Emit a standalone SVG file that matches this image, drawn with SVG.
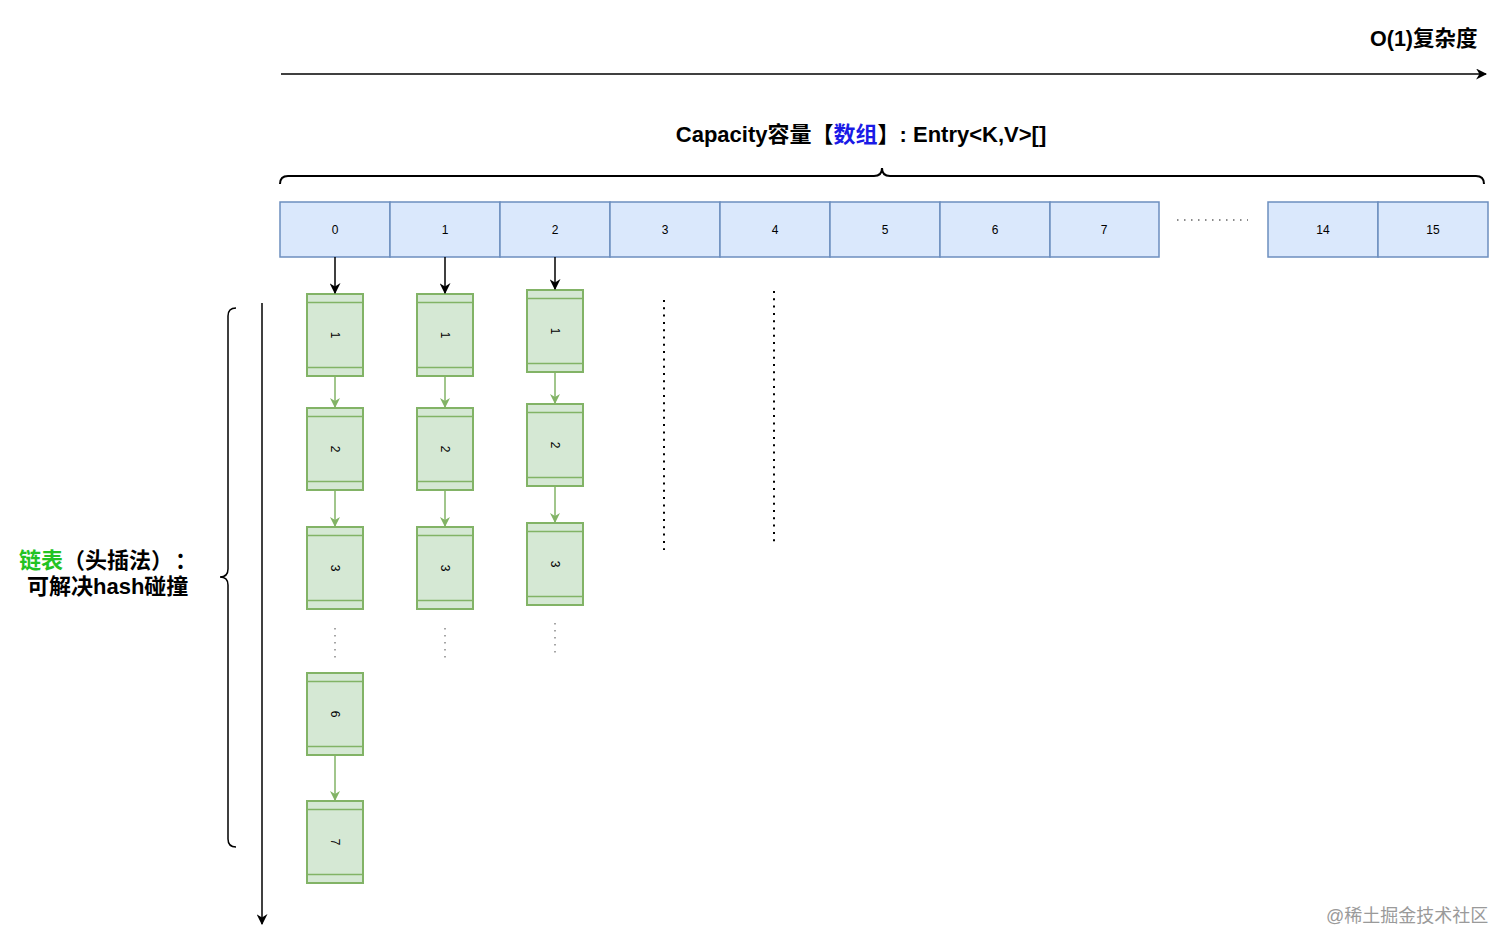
<svg xmlns="http://www.w3.org/2000/svg" width="1512" height="951" viewBox="0 0 1512 951">
<style>
text{font-family:"Liberation Sans","Noto Sans CJK SC",Arial,sans-serif}
.cell{fill:#dae8fc;stroke:#6c8ebf;stroke-width:1.5}
.ct{font-size:12px;fill:#000;text-anchor:middle}
.node rect{fill:#d5e8d4;stroke:#82b366;stroke-width:2}
.node line{stroke:#82b366;stroke-width:1.5}
.nt{font-size:12px;fill:#000;text-anchor:middle}
.big{font-size:21px;font-weight:bold;fill:#000}
.blk{stroke:#000;stroke-width:2;fill:none}
.grn{stroke:#82b366;stroke-width:1.5;fill:none}
.gdot{stroke:#888;stroke-width:1.5;stroke-dasharray:1.5 5.5;fill:none}
.bdot{stroke:#000;stroke-width:2;stroke-dasharray:2 5.3;fill:none}
</style>
<defs>
<marker id="ab2" viewBox="0 0 10 10" refX="9" refY="5" markerWidth="11" markerHeight="11" markerUnits="userSpaceOnUse" orient="auto">
<path d="M0,0 L10,5 L0,10 L3,5 Z" fill="#000"/>
</marker>
<marker id="ag" viewBox="0 0 10 10" refX="9" refY="5" markerWidth="10" markerHeight="10" markerUnits="userSpaceOnUse" orient="auto">
<path d="M0,0 L10,5 L0,10 L3,5 Z" fill="#82b366"/>
</marker>
</defs>

<g id="title-complexity">
<text class="big" x="1370" y="46" style="font-size:21.5px">O(1)复杂度</text>
</g>
<g id="title-capacity">
<text class="big" x="861" y="142" text-anchor="middle" style="font-size:22px">Capacity容量【<tspan fill="#1a1ae6">数组</tspan>】: Entry&lt;K,V&gt;[]</text>
</g>
<g id="label-list">
<text class="big" x="19" y="568" style="font-size:22px"><tspan fill="#22c322">链表</tspan>（头插法）</text>
<text class="big" x="175" y="568" style="font-size:22px">：</text>
<text class="big" x="27" y="594" style="font-size:22px">可解决hash碰撞</text>
</g>
<g id="watermark">
<text x="1326" y="922" style="font-size:18px;fill:#9a9a9a">@稀土掘金技术社区</text>
</g>

<g id="braces">
<path class="blk" d="M280,184 Q280,176 288,176 L874,176 Q882,176 882,168 Q882,176 890,176 L1476,176 Q1484,176 1484,184"/>
<path class="blk" style="stroke-width:1.5" d="M236,308 Q228,308 228,316 L228,569 Q228,577 220,577 Q228,577 228,585 L228,839 Q228,847 236,847"/>
</g>

<g id="array">
<g id="cell-0"><rect class="cell" x="280" y="202" width="110" height="55"/><text class="ct" x="335" y="234">0</text></g>
<g id="cell-1"><rect class="cell" x="390" y="202" width="110" height="55"/><text class="ct" x="445" y="234">1</text></g>
<g id="cell-2"><rect class="cell" x="500" y="202" width="110" height="55"/><text class="ct" x="555" y="234">2</text></g>
<g id="cell-3"><rect class="cell" x="610" y="202" width="110" height="55"/><text class="ct" x="665" y="234">3</text></g>
<g id="cell-4"><rect class="cell" x="720" y="202" width="110" height="55"/><text class="ct" x="775" y="234">4</text></g>
<g id="cell-5"><rect class="cell" x="830" y="202" width="110" height="55"/><text class="ct" x="885" y="234">5</text></g>
<g id="cell-6"><rect class="cell" x="940" y="202" width="110" height="55"/><text class="ct" x="995" y="234">6</text></g>
<g id="cell-7"><rect class="cell" x="1050" y="202" width="109" height="55"/><text class="ct" x="1104" y="234">7</text></g>
<g id="cell-14"><rect class="cell" x="1268" y="202" width="110" height="55"/><text class="ct" x="1323" y="234">14</text></g>
<g id="cell-15"><rect class="cell" x="1378" y="202" width="110" height="55"/><text class="ct" x="1433" y="234">15</text></g>
</g>

<g id="nodes">
<g id="n0-1" class="node"><rect x="307" y="294" width="56" height="82"/><line x1="307" y1="302.5" x2="363" y2="302.5"/><line x1="307" y1="367.5" x2="363" y2="367.5"/><text class="nt" transform="translate(335,335) rotate(90)" y="4">1</text></g>
<g id="n0-2" class="node"><rect x="307" y="408" width="56" height="82"/><line x1="307" y1="416.5" x2="363" y2="416.5"/><line x1="307" y1="481.5" x2="363" y2="481.5"/><text class="nt" transform="translate(335,449) rotate(90)" y="4">2</text></g>
<g id="n0-3" class="node"><rect x="307" y="527" width="56" height="82"/><line x1="307" y1="535.5" x2="363" y2="535.5"/><line x1="307" y1="600.5" x2="363" y2="600.5"/><text class="nt" transform="translate(335,568) rotate(90)" y="4">3</text></g>
<g id="n0-6" class="node"><rect x="307" y="673" width="56" height="82"/><line x1="307" y1="681.5" x2="363" y2="681.5"/><line x1="307" y1="746.5" x2="363" y2="746.5"/><text class="nt" transform="translate(335,714) rotate(90)" y="4">6</text></g>
<g id="n0-7" class="node"><rect x="307" y="801" width="56" height="82"/><line x1="307" y1="809.5" x2="363" y2="809.5"/><line x1="307" y1="874.5" x2="363" y2="874.5"/><text class="nt" transform="translate(335,842) rotate(90)" y="4">7</text></g>

<g id="n1-1" class="node"><rect x="417" y="294" width="56" height="82"/><line x1="417" y1="302.5" x2="473" y2="302.5"/><line x1="417" y1="367.5" x2="473" y2="367.5"/><text class="nt" transform="translate(445,335) rotate(90)" y="4">1</text></g>
<g id="n1-2" class="node"><rect x="417" y="408" width="56" height="82"/><line x1="417" y1="416.5" x2="473" y2="416.5"/><line x1="417" y1="481.5" x2="473" y2="481.5"/><text class="nt" transform="translate(445,449) rotate(90)" y="4">2</text></g>
<g id="n1-3" class="node"><rect x="417" y="527" width="56" height="82"/><line x1="417" y1="535.5" x2="473" y2="535.5"/><line x1="417" y1="600.5" x2="473" y2="600.5"/><text class="nt" transform="translate(445,568) rotate(90)" y="4">3</text></g>

<g id="n2-1" class="node"><rect x="527" y="290" width="56" height="82"/><line x1="527" y1="298.5" x2="583" y2="298.5"/><line x1="527" y1="363.5" x2="583" y2="363.5"/><text class="nt" transform="translate(555,331) rotate(90)" y="4">1</text></g>
<g id="n2-2" class="node"><rect x="527" y="404" width="56" height="82"/><line x1="527" y1="412.5" x2="583" y2="412.5"/><line x1="527" y1="477.5" x2="583" y2="477.5"/><text class="nt" transform="translate(555,445) rotate(90)" y="4">2</text></g>
<g id="n2-3" class="node"><rect x="527" y="523" width="56" height="82"/><line x1="527" y1="531.5" x2="583" y2="531.5"/><line x1="527" y1="596.5" x2="583" y2="596.5"/><text class="nt" transform="translate(555,564) rotate(90)" y="4">3</text></g>
</g>

<g id="connectors">
<line class="blk" style="stroke-width:1.5" x1="281" y1="74" x2="1486" y2="74" marker-end="url(#ab2)"/>
<line class="blk" style="stroke-width:1.5" x1="262" y1="303" x2="262" y2="924" marker-end="url(#ab2)"/>
<line class="blk" style="stroke-width:1.5" x1="335" y1="257" x2="335" y2="293" marker-end="url(#ab2)"/>
<line class="blk" style="stroke-width:1.5" x1="445" y1="257" x2="445" y2="293" marker-end="url(#ab2)"/>
<line class="blk" style="stroke-width:1.5" x1="555" y1="257" x2="555" y2="289" marker-end="url(#ab2)"/>

<line class="grn" x1="335" y1="376" x2="335" y2="407" marker-end="url(#ag)"/>
<line class="grn" x1="335" y1="490" x2="335" y2="526" marker-end="url(#ag)"/>
<line class="grn" x1="335" y1="755" x2="335" y2="800" marker-end="url(#ag)"/>
<line class="grn" x1="445" y1="376" x2="445" y2="407" marker-end="url(#ag)"/>
<line class="grn" x1="445" y1="490" x2="445" y2="526" marker-end="url(#ag)"/>
<line class="grn" x1="555" y1="372" x2="555" y2="403" marker-end="url(#ag)"/>
<line class="grn" x1="555" y1="486" x2="555" y2="522" marker-end="url(#ag)"/>

<line class="gdot" x1="335" y1="628" x2="335" y2="662"/>
<line class="gdot" x1="445" y1="628" x2="445" y2="662"/>
<line class="gdot" x1="555" y1="623" x2="555" y2="657"/>

<line class="bdot" x1="664" y1="300" x2="664" y2="550"/>
<line class="bdot" x1="774" y1="291" x2="774" y2="542"/>
<line class="gdot" style="stroke:#666" x1="1177" y1="220" x2="1248" y2="220"/>
</g>
</svg>
